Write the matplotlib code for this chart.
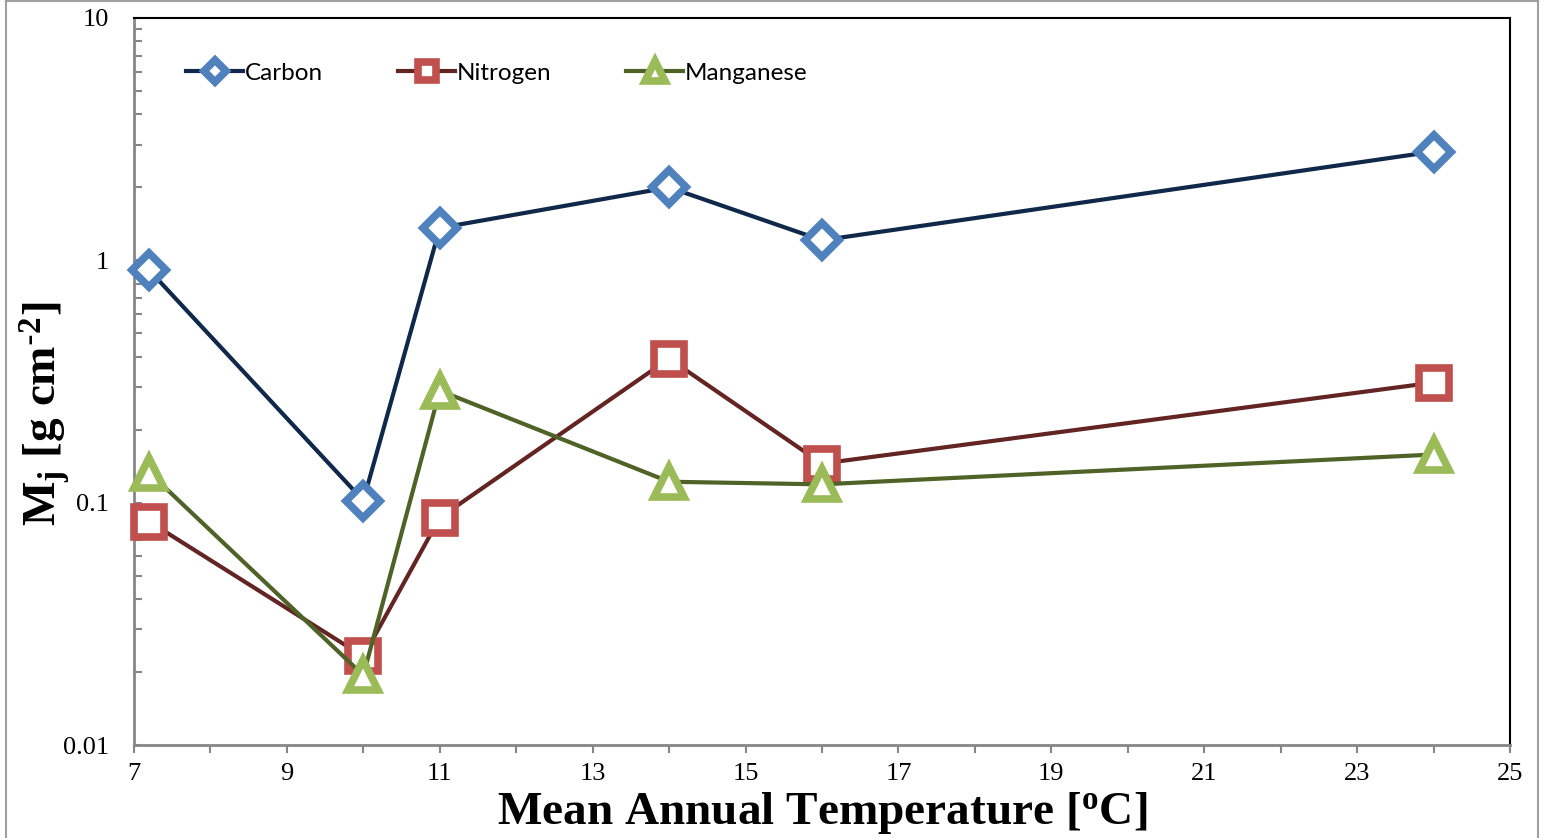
import matplotlib
matplotlib.use("Agg")
import matplotlib.pyplot as plt
from matplotlib.lines import Line2D
from matplotlib.ticker import FixedLocator, LogLocator, NullFormatter, FixedFormatter

temps = [7.2, 10, 11, 14, 16, 24]
carbon = [0.91, 0.102, 1.36, 2.0, 1.21, 2.81]
nitrogen = [0.0835, 0.0232, 0.0867, 0.393, 0.145, 0.313]
manganese = [0.133, 0.0194, 0.29, 0.122, 0.119, 0.158]

x_major = [7, 9, 11, 13, 15, 17, 19, 21, 23, 25]
x_minor = [8, 10, 12, 14, 16, 18, 20, 22, 24]
y_major = [0.01, 0.1, 1, 10]
y_labels = ["0.01", "0.1", "1", "10"]

fig = plt.figure(figsize=(15.44, 8.38), dpi=100)
ax = fig.add_axes([134/1544, 1-745/838, (1510-134)/1544, (745-18)/838])

series = [
    ("Carbon", carbon, "#10284A", "#4F81BD", "D", 17),
    ("Nitrogen", nitrogen, "#632523", "#C0504D", "s", 21),
    ("Manganese", manganese, "#4F6228", "#9BBB59", "^", 22),
]
for name, vals, lc, mc, mk, ms in series:
    ax.plot(temps, vals, color=lc, lw=3, marker=mk, ms=ms, mfc="white",
            mec=mc, mew=5.5, label=name, clip_on=False, zorder=3)

ax.set_yscale("log")
ax.set_xlim(7, 25)
ax.set_ylim(0.01, 10)

ax.xaxis.set_major_locator(FixedLocator(x_major))
ax.xaxis.set_minor_locator(FixedLocator(x_minor))
ax.yaxis.set_major_locator(FixedLocator(y_major))
ax.yaxis.set_major_formatter(FixedFormatter(y_labels))
ax.yaxis.set_minor_locator(LogLocator(base=10, subs=range(2, 10)))
ax.yaxis.set_minor_formatter(NullFormatter())

for lab in ax.get_xticklabels() + ax.get_yticklabels():
    lab.set_fontfamily("Liberation Serif")
    lab.set_fontsize(19)

ax.tick_params(axis="x", which="both", direction="out", length=6, width=1.5,
               color="#868686", pad=7)
ax.tick_params(axis="y", which="both", direction="in", length=6, width=1.5,
               color="#868686", pad=18)

for s in ["left", "bottom"]:
    ax.spines[s].set_color("#868686")
    ax.spines[s].set_linewidth(2)
for s in ["top", "right"]:
    ax.spines[s].set_color("black")
    ax.spines[s].set_linewidth(1.5)

ax.set_xlabel("Mean Annual Temperature [$\\mathregular{^{o}}$C]",
              fontfamily="Liberation Serif", fontweight="bold", fontsize=34)
ax.xaxis.set_label_coords(0.5, (745-790)/727)
ax.set_ylabel("M$\\mathregular{_j}$ [g cm$\\mathregular{^{\\text{-}2}}$]",
              fontfamily="Liberation Serif", fontweight="bold", fontsize=34)
ax.yaxis.set_label_coords((72-134)/1376, 0.455)

leg = ax.legend(loc="center left", bbox_to_anchor=(0.022, (745-73)/727), ncol=3,
                frameon=False, prop={"family": "Lato", "size": 17.5},
                handlelength=2.35, handletextpad=0.05, columnspacing=3.1,
                markerscale=0.65)

# figure border
fig.add_artist(Line2D([6/1544, 6/1544], [0, 1-1/838], color="#A0A0A0", lw=1.5))
fig.add_artist(Line2D([6/1544, 1538/1544], [1-1/838, 1-1/838], color="#A0A0A0", lw=1.5))
fig.add_artist(Line2D([1538/1544, 1538/1544], [0, 1-1/838], color="#A0A0A0", lw=1.5))

fig.savefig("out.png", dpi=100)
